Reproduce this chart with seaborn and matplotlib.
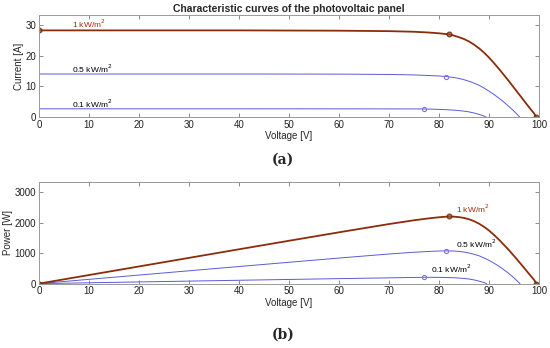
import matplotlib
matplotlib.use("Agg")
import matplotlib.pyplot as plt
import seaborn as sns

# Curva I-V e P-V
v_1k = [0, 10, 20, 30, 40, 50, 60, 70, 75, 78, 80, 82, 83, 84, 85, 86, 87, 88, 89,
        90, 91, 92, 93, 94, 95, 96, 97, 98, 99, 99.5]
i_1k = [28.2, 28.2, 28.2, 28.2, 28.2, 28.15, 28.1, 27.95, 27.75, 27.5, 27.25, 26.9,
        26.5, 26.0, 25.4, 24.6, 23.6, 22.4, 21.0, 19.4, 17.6, 15.7, 13.7, 11.7, 9.6,
        7.5, 5.4, 3.3, 1.3, 0]
p_1k = [0, 282, 564, 846, 1128, 1408, 1686, 1957, 2081, 2145, 2180, 2206, 2200, 2184,
        2159, 2116, 2053, 1971, 1869, 1746, 1602, 1444, 1274, 1100, 912, 720, 524,
        323, 129, 0]

v_05 = [0, 20, 40, 60, 70, 75, 78, 80, 81.5, 83, 84, 85, 86, 87, 88, 89, 90, 91, 92,
        93, 94, 95, 96.2]
i_05 = [14.05, 14.05, 14.05, 14.0, 13.9, 13.75, 13.55, 13.4, 13.2, 12.9, 12.6, 12.2,
        11.7, 11.1, 10.4, 9.5, 8.5, 7.4, 6.2, 4.9, 3.5, 2.0, 0]
p_05 = [0, 281, 562, 840, 973, 1031, 1057, 1072, 1076, 1071, 1058, 1037, 1006, 966,
        915, 846, 765, 673, 570, 456, 329, 190, 0]

v_01 = [0, 20, 40, 60, 70, 77, 79, 81, 83, 85, 86, 87, 88, 89, 89.5]
i_01 = [2.75, 2.75, 2.75, 2.74, 2.72, 2.7, 2.62, 2.5, 2.32, 2.0, 1.75, 1.4, 0.95, 0.4, 0]
p_01 = [0, 55, 110, 164, 190, 208, 207, 203, 193, 170, 151, 122, 84, 36, 0]

# pontos de máxima potência
mpp_v = [82, 81.5, 77]
mpp_i = [26.9, 13.2, 2.7]
mpp_p = [2206, 1076, 208]

labels = ["1 kW/m$^2$", "0.5 kW/m$^2$", "0.1 kW/m$^2$"]

brown = "#8b2c0a"
blue = "#5a5ad6"
mk_blue = "#8a6fe0"

sns.set_style("ticks")
plt.rcParams["font.family"] = ["Liberation Sans", "DejaVu Sans"]

fig = plt.figure(figsize=(5.5, 3.48), dpi=100)
ax1 = fig.add_axes([0.0709, 0.663, 0.909, 0.294])
ax2 = fig.add_axes([0.0709, 0.185, 0.909, 0.293])

# (a) corrente
sns.lineplot(x=v_01, y=i_01, ax=ax1, color=blue, lw=0.7)
sns.lineplot(x=v_05, y=i_05, ax=ax1, color=blue, lw=0.7)
sns.lineplot(x=v_1k, y=i_1k, ax=ax1, color=brown, lw=1.3)
ax1.plot(mpp_v[1:], mpp_i[1:], "o", ms=3, mfc="none", mec=mk_blue, mew=0.8)
ax1.plot([0, mpp_v[0], 99.5], [28.2, mpp_i[0], 0], "o", ms=3.5, mfc="#a0522d",
         mec="#5a2000", mew=0.8, alpha=0.8)
ax1.text(6.7, 30.2, labels[0], color="#a0300a", fontsize=6, va="center")
ax1.text(6.7, 15.7, labels[1], color="black", fontsize=6, va="center")
ax1.text(6.7, 4.4, labels[2], color="black", fontsize=6, va="center")
ax1.set_ylim(0, 33.2)
ax1.set_yticks([0, 10, 20, 30])
ax1.set_ylabel("Current [A]", fontsize=7, labelpad=1)
ax1.set_title("Characteristic curves of the photovoltaic panel", fontsize=7.5,
              fontweight="bold", pad=2)

# (b) potência
sns.lineplot(x=v_01, y=p_01, ax=ax2, color=blue, lw=0.7)
sns.lineplot(x=v_05, y=p_05, ax=ax2, color=blue, lw=0.7)
sns.lineplot(x=v_1k, y=p_1k, ax=ax2, color=brown, lw=1.3)
ax2.plot(mpp_v[1:], mpp_p[1:], "o", ms=3, mfc="none", mec=mk_blue, mew=0.8)
ax2.plot([0, mpp_v[0], 99.5], [0, mpp_p[0], 0], "o", ms=3.5, mfc="#a0522d",
         mec="#5a2000", mew=0.8, alpha=0.8)
ax2.text(83.5, 2450, labels[0], color="#a0300a", fontsize=6, va="center")
ax2.text(83.5, 1310, labels[1], color="black", fontsize=6, va="center")
ax2.text(78.5, 490, labels[2], color="black", fontsize=6, va="center")
ax2.set_ylim(0, 3350)
ax2.set_yticks([0, 1000, 2000, 3000])
ax2.set_ylabel("Power [W]", fontsize=7, labelpad=1)

for ax in (ax1, ax2):
    ax.set_xlim(0, 100)
    ax.set_xticks(range(0, 101, 10))
    ax.set_xlabel("Voltage [V]", fontsize=7, labelpad=1)
    ax.tick_params(direction="in", top=True, right=True, labelsize=7, length=3,
                   width=0.6, color="#777777", pad=2, labelcolor="#222222")
    for s in ax.spines.values():
        s.set_visible(True)
        s.set_color("#999999")
        s.set_linewidth(0.7)

fig.text(0.515, 0.54, "(a)", fontsize=10, fontweight="bold", family="DejaVu Serif",
         ha="center", va="center")
fig.text(0.515, 0.037, "(b)", fontsize=10, fontweight="bold", family="DejaVu Serif",
         ha="center", va="center")

fig.savefig("out.png", dpi=100)
